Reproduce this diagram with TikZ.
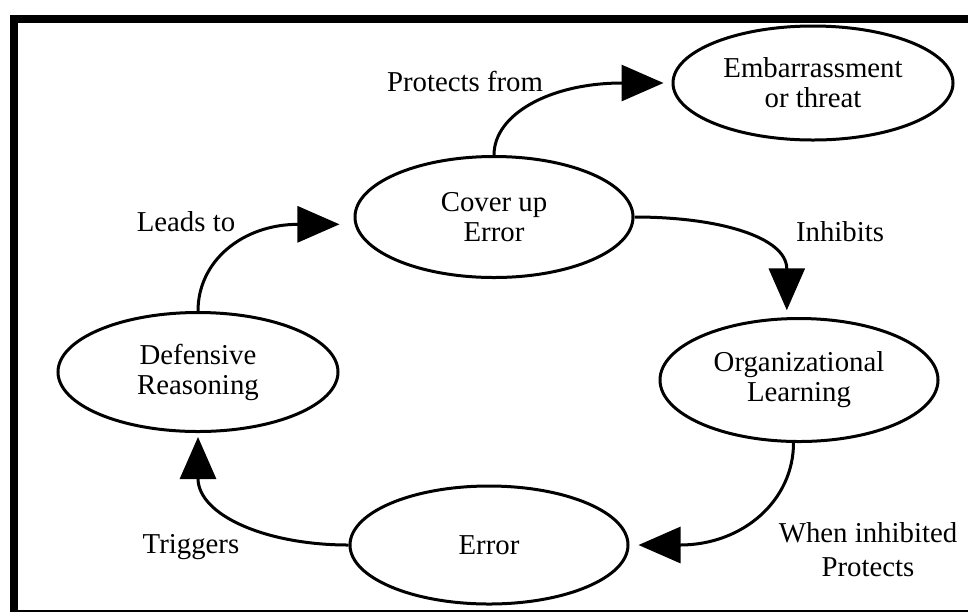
\documentclass[tikz,border=0pt]{standalone}
\usepackage{fontspec}
\setmainfont{Liberation Serif}
\usetikzlibrary{shapes.geometric,arrows.meta}

\newcommand\cyclefont{\fontsize{14.4}{15}\selectfont}

\begin{document}
\begin{tikzpicture}[x=0.5pt,y=0.5pt,
  state/.style={ellipse,draw,line width=1.5pt,inner sep=0pt,align=center,font=\cyclefont},
  lab/.style={inner sep=0pt,align=center,font=\cyclefont},
  link/.style={line width=1.5pt,-{Triangle[length=21pt,width=18pt]}}]

  \useasboundingbox (0,0) rectangle (968,-612);

  % page frame: heavy left and top rules, thin bottom rule
  \fill (10,-15) rectangle (17.5,-612);
  \fill (10,-15) rectangle (968,-23);
  \fill (10,-609.5) rectangle (968,-611.5);

  % states of the cycle
  \node[state,minimum width=140pt,minimum height=57pt]   (emb) at (813,-83)  {Embarrassment\\or threat};
  \node[state,minimum width=139pt,minimum height=60.5pt] (co)  at (494,-217) {Cover up\\Error};
  \node[state,minimum width=140pt,minimum height=59.5pt] (dr)  at (198,-372) {Defensive\\Reasoning};
  \node[state,minimum width=139pt,minimum height=61.5pt] (ol)  at (799,-380) {Organizational\\Learning};
  \node[state,minimum width=139pt,minimum height=59pt]   (err) at (489,-545) {Error};

  % edge labels
  \node[lab] (lpf) at (465,-81)  {Protects from};
  \node[lab] (lin) at (840,-232) {Inhibits};
  \node[lab,font=\fontsize{14.4}{17}\selectfont] (lwi) at (868,-550) {When inhibited\\Protects};
  \node[lab] (ltr) at (191,-547) {Triggers};
  \node[lab] (lld) at (186,-222) {Leads to};

  % connectors: quarter-ellipse arcs ending in large solid heads
  % (second control points are set back by the gap plus the head length)
  \draw[link,shorten >=4pt]   (co.north) .. controls +(0,41)  and +(-121,0) .. (emb.west);
  \draw[link,shorten >=3.5pt] (co.east)  .. controls +(85,0)  and +(0,80)   .. (ol.101);
  \draw[link,shorten >=4.5pt] (ol.-95)   .. controls +(0,-57) and +(114,0)  .. (err.east);
  \draw[link,shorten >=2pt]   (err.west) .. controls +(-83,0) and +(0,-82)  .. (dr.south);
  \draw[link,shorten >=7.5pt] (dr.north) .. controls +(0,50)  and +(-112,0) .. (co.183);
\end{tikzpicture}
\end{document}
